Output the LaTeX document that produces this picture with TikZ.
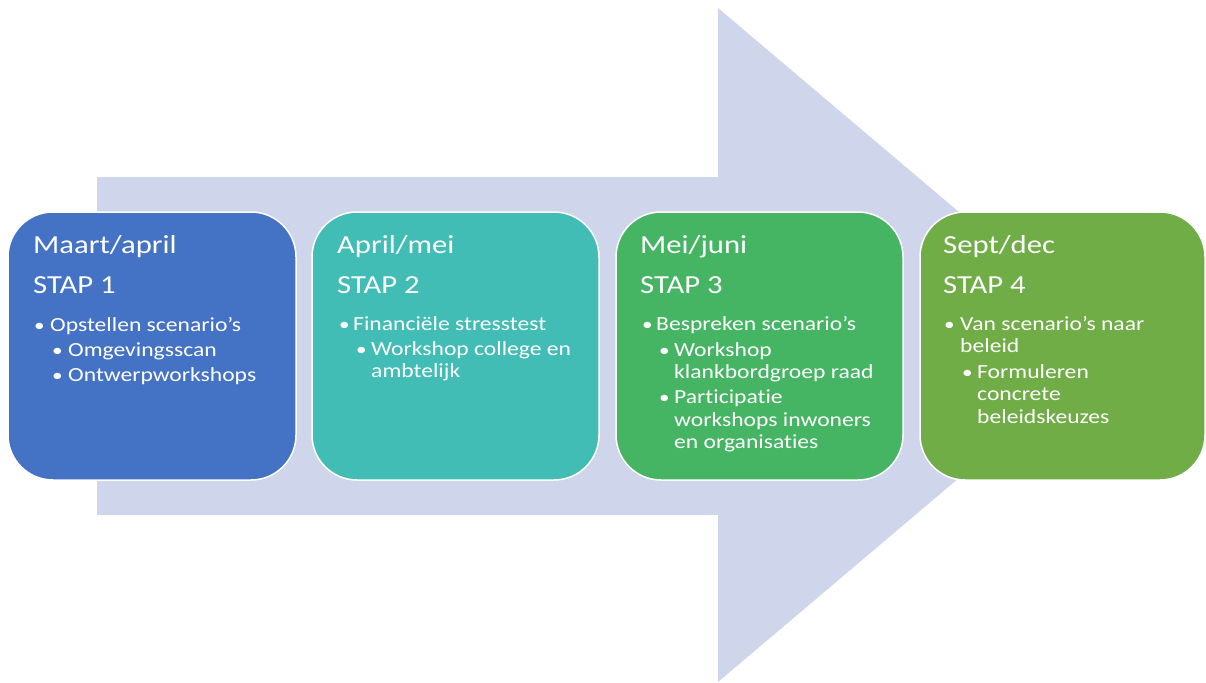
\documentclass[tikz,border=0pt]{standalone}
\usepackage{fontspec}
\setmainfont[FakeStretch=1.18, Ligatures=NoCommon]{Carlito}
\definecolor{arrowc}{HTML}{CFD5EA}
\definecolor{cA}{HTML}{4472C4}
\definecolor{cB}{HTML}{42BDB6}
\definecolor{cC}{HTML}{45B564}
\definecolor{cD}{HTML}{70AD47}
\tikzset{
  stepbox/.style={draw=white, line width=1.5pt, rounded corners=45pt},
  ttl/.style={anchor=base west, inner sep=0pt, text=white, font=\fontsize{26}{30}\selectfont},
  itm/.style={anchor=base west, inner sep=0pt, text=white, font=\fontsize{20}{22}\selectfont},
  dot/.style={anchor=base west, inner sep=0pt, text=white, font=\fontsize{18}{20}\selectfont},
}
\begin{document}
\begin{tikzpicture}[x=1pt,y=-1pt]
\useasboundingbox (0,0) rectangle (1206,682);
\fill[arrowc] (97,177) -- (718,177) -- (718,8) -- (1116,345) -- (718,682) -- (718,515) -- (97,515) -- cycle;
% boxes
\draw[stepbox, fill=cA] (8,212) rectangle (296,480);
\draw[stepbox, fill=cB] (312,212) rectangle (599,480);
\draw[stepbox, fill=cC] (616,212) rectangle (903,480);
\draw[stepbox, fill=cD] (920,212) rectangle (1205,480);
% box 1
\node[ttl] (t1) at (33,253) {Maart/april};
\node[ttl] (s1) at (33,293) {STAP 1};
\node[dot] (d11) at (34,331) {•};
\node[itm] (b11) at (50,331) {Opstellen scenario’s};
\node[dot] (d12) at (52,356) {•};
\node[itm] (b12) at (68,356) {Omgevingsscan};
\node[dot] (d13) at (52,381) {•};
\node[itm] (b13) at (68,381) {Ontwerpworkshops};
% box 2
\node[ttl] (t2) at (337,253) {April/mei};
\node[ttl] (s2) at (337,293) {STAP 2};
\node[dot] (d21) at (339,330) {•};
\node[itm] (b21) at (353,330) {Financiële stresstest};
\node[dot] (d22) at (356,355) {•};
\node[itm] (b22) at (371,355) {Workshop college en};
\node[itm] (b23) at (371,377) {ambtelijk};
% box 3
\node[ttl] (t3) at (640,253) {Mei/juni};
\node[ttl] (s3) at (640,293) {STAP 3};
\node[dot] (d31) at (642,330) {•};
\node[itm] (b31) at (656,330) {Bespreken scenario’s};
\node[dot] (d32) at (659,356) {•};
\node[itm] (b32) at (674,356) {Workshop};
\node[itm] (b33) at (674,378) {klankbordgroep raad};
\node[dot] (d34) at (659,403) {•};
\node[itm] (b34) at (674,403) {Participatie};
\node[itm] (b35) at (674,426) {workshops inwoners};
\node[itm] (b36) at (674,448) {en organisaties};
% box 4
\node[ttl] (t4) at (943,253) {Sept/dec};
\node[ttl] (s4) at (943,293) {STAP 4};
\node[dot] (d41) at (944,330) {•};
\node[itm] (b41) at (960,330) {Van scenario’s naar};
\node[itm] (b42) at (960,352) {beleid};
\node[dot] (d43) at (962,378) {•};
\node[itm] (b43) at (977,378) {Formuleren};
\node[itm] (b44) at (977,400) {concrete};
\node[itm] (b45) at (977,423) {beleidskeuzes};
\end{tikzpicture}
\end{document}
